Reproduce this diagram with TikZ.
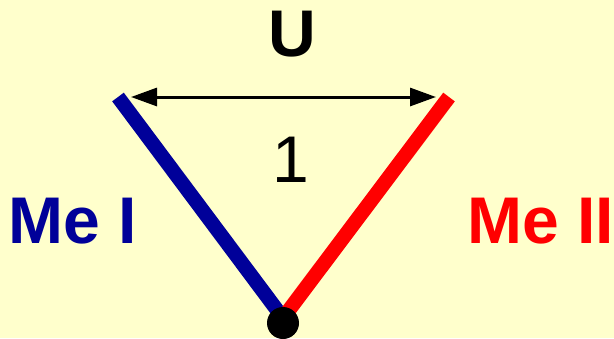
\documentclass[tikz,border=0pt]{standalone}
\usepackage{fontspec}
\setmainfont{Liberation Sans}
\usetikzlibrary{arrows.meta}
\definecolor{bgyellow}{HTML}{FFFFCC}
\definecolor{meblue}{HTML}{000099}
\definecolor{mered}{HTML}{FF0000}
\tikzset{
  metal/.style={line width=14.5pt},
  biglabel/.style={font=\fontsize{66}{70}\selectfont\bfseries, anchor=base, inner sep=0pt}
}
\begin{document}
\begin{tikzpicture}[x=1pt, y=-1pt, >={Triangle[length=26pt,width=18pt]}]
  \fill[bgyellow] (0,0) rectangle (614,338);
  \useasboundingbox (0,0) rectangle (614,338);
  \coordinate (topL) at (118,97);
  \coordinate (topR) at (449,97);
  \coordinate (apex) at (283,318);
  \coordinate (uL) at (131,97);
  \coordinate (uR) at (436,97);
  \draw[metal, meblue] (topL) -- (apex);
  \draw[metal, mered] (topR) -- (apex);
  \node[circle, fill=black, minimum size=32pt, inner sep=0pt] (dot) at (283,323) {};
  \draw[<->, line width=3pt] (uL) -- (uR);
  \node[biglabel] (U) at (292.5,56) {U};
  \node[biglabel, font=\fontsize{66}{70}\selectfont] (one) at (291,182) {1};
  \node[biglabel, meblue] (meI) at (72.5,243) {Me I};
  \node[biglabel, mered] (meII) at (541,243) {Me II};
\end{tikzpicture}
\end{document}
